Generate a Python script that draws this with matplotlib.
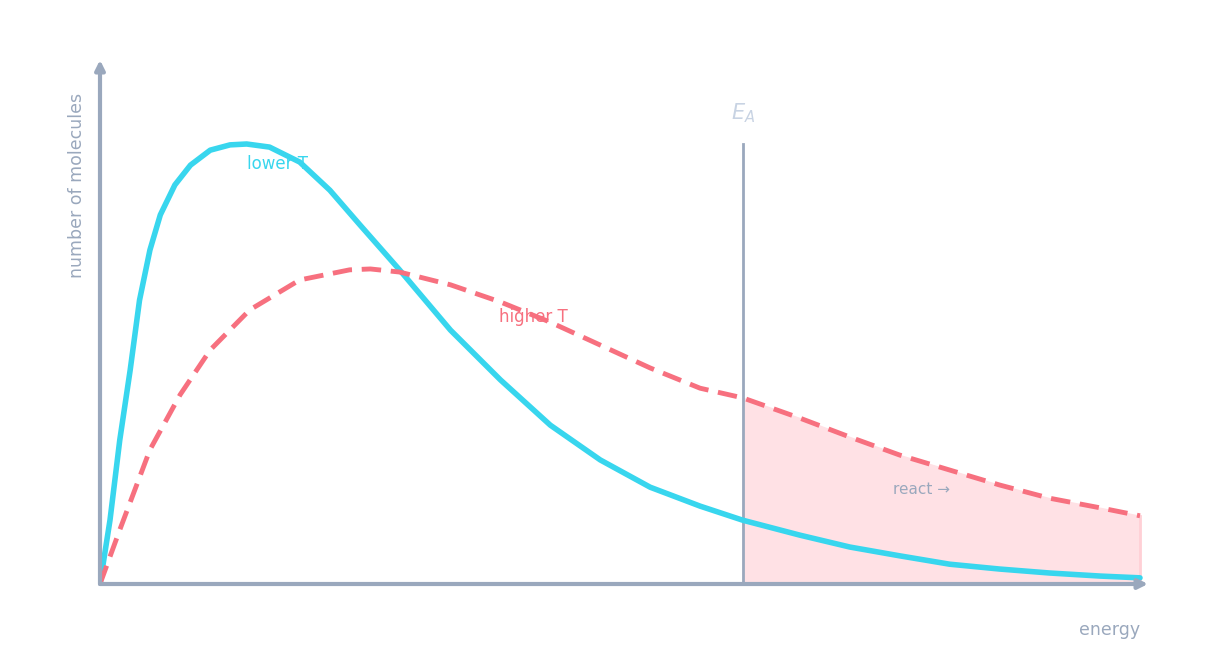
import matplotlib
matplotlib.use("Agg")
import matplotlib.pyplot as plt
import numpy as np

# energy / count values
lower_x = [0,0.096,0.19,0.29,0.38,0.48,0.58,0.72,0.87,1.06,1.25,1.41,1.63,1.92,2.21,2.5,2.88,3.37,3.85,4.33,4.81,5.29,5.77,6.18,6.73,7.21,7.69,8.17,8.65,9.13,9.62,10.0]
lower_y = [0,0.145,0.327,0.486,0.645,0.759,0.839,0.907,0.952,0.986,0.998,1.0,0.993,0.959,0.895,0.816,0.714,0.577,0.464,0.361,0.282,0.220,0.177,0.145,0.111,0.084,0.064,0.045,0.034,0.025,0.018,0.014]
higher_x = [0,0.19,0.48,0.77,1.06,1.44,1.92,2.4,2.6,2.88,3.37,3.85,4.33,4.81,5.29,5.77,6.18,6.73,7.21,7.69,8.17,8.65,9.13,9.62,10.0]
higher_y = [0,0.123,0.305,0.43,0.532,0.623,0.691,0.714,0.716,0.709,0.68,0.641,0.595,0.543,0.491,0.445,0.423,0.377,0.334,0.293,0.259,0.225,0.195,0.173,0.155]
ea = 6.18

W, H = 1206, 666
fig = plt.figure(figsize=(W/100, H/100), dpi=100)
ax = fig.add_axes([100/W, 82/H, 1050/W, 524/H])
ax.set_xlim(0, 1050/104)
ax.set_ylim(0, 524/440)
ax.axis('off')

axc = '#9aa8bd'
cyan = '#38d6ee'
red = '#f7707f'

hx = np.array(higher_x); hy = np.array(higher_y)
m = hx >= ea
fx = np.concatenate([[ea], hx[m]]); fy = np.concatenate([[np.interp(ea, hx, hy)], hy[m]])
ax.fill_between(fx, 0, fy, color='#ffe1e5', zorder=1)
ax.plot([10.0, 10.0], [0, hy[-1]], color='#ffd0d6', lw=2, zorder=1)

ax.plot(lower_x, lower_y, color=cyan, lw=4, zorder=3, solid_capstyle='round')
ax.plot(higher_x, higher_y, color=red, lw=3.5, ls=(0, (4, 2)), zorder=3)
ax.plot([ea, ea], [0, 1.0], color=axc, lw=2, zorder=2)

ax.annotate('', xy=(1048/104, 0), xytext=(0, 0), annotation_clip=False,
            arrowprops=dict(arrowstyle='-|>', color=axc, lw=3, mutation_scale=14, shrinkA=0, shrinkB=0))
ax.annotate('', xy=(0, 524/440), xytext=(0, 0), annotation_clip=False,
            arrowprops=dict(arrowstyle='-|>', color=axc, lw=3, mutation_scale=14, shrinkA=0, shrinkB=0))

ax.text(ea, 1.07, r'$E_A$', color='#c8d3e3', fontsize=15, ha='center', va='center')
ax.text((247-100)/104, (584-164)/440, 'lower T', color=cyan, fontsize=12, va='center')
ax.text((499-100)/104, (584-317)/440, 'higher T', color=red, fontsize=12, va='center')
ax.text((893-100)/104, (584-489)/440, 'react →', color=axc, fontsize=11, va='center')
fig.text(1140/W, 1-630/H, 'energy', color=axc, fontsize=12.5, ha='right', va='center')
fig.text(77/W, 1-185/H, 'number of molecules', color=axc, fontsize=12.5, rotation=90, ha='center', va='center')

fig.savefig('out.png', dpi=100)
